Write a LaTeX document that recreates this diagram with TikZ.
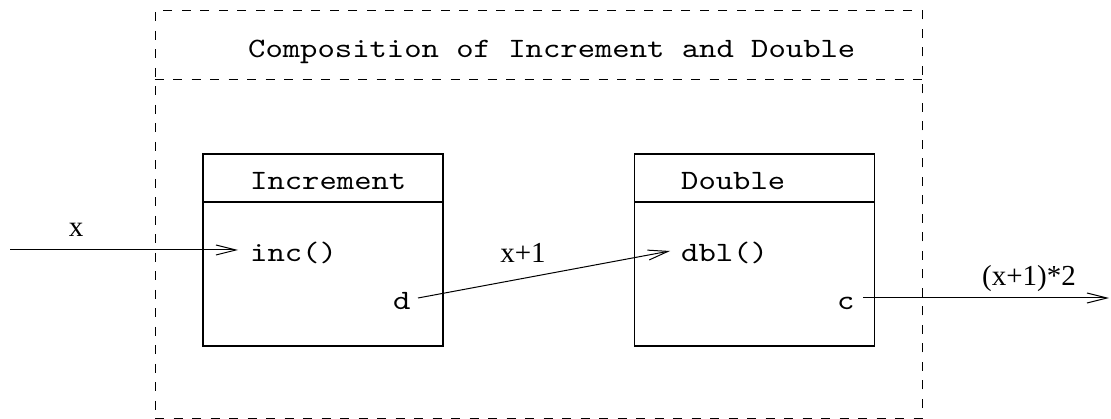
\documentclass[tikz,border=0pt]{standalone}
\usepackage{fontspec}
\setmainfont{Liberation Serif}
\setmonofont{lmmono10-regular.otf}[FakeStretch=1.18]
\usetikzlibrary{arrows.meta}
\begin{document}
\begin{tikzpicture}[x=1pt,y=-1pt,
  lbl/.style={inner sep=0pt, anchor=base west, font=\fontsize{28}{32}\selectfont\ttfamily},
  slbl/.style={inner sep=0pt, anchor=base, font=\fontsize{29}{32}\selectfont\rmfamily},
  dashbox/.style={draw, dash pattern=on 9pt off 9.5pt, line width=1pt},
  comp/.style={draw, line width=1.1pt, minimum width=240pt, minimum height=192pt, inner sep=0pt},
  flow/.style={line width=1pt, -{Straight Barb[length=20pt,width=10pt]}}
]
\useasboundingbox (0,0) rectangle (1111,419);
% outer composite
\node[dashbox, minimum width=767pt, minimum height=407pt, inner sep=0pt] (outer) at (538.5,214.5) {};
\coordinate (sepa) at (0,80);
\draw[dashbox] (outer.west |- sepa) -- (outer.east |- sepa);
\node[lbl] (title) at (248,58) {Composition of Increment and Double};
% components
\node[comp] (incbox) at (323,250) {};
\node[comp] (dblbox) at (754.5,250) {};
\coordinate (sepb) at (0,202);
\draw[line width=1.1pt] (incbox.west |- sepb) -- (incbox.east |- sepb);
\draw[line width=1.1pt] (dblbox.west |- sepb) -- (dblbox.east |- sepb);
\node[lbl] (incname) at (250,190) {Increment};
\node[lbl] (dblname) at (681,190) {Double};
\node[lbl] (incm) at (250,262) {inc()};
\node[lbl] (dblm) at (681,262) {dbl()};
\node[lbl] (dport) at (393,310) {d};
\node[lbl] (cport) at (837,310) {c};
% connector end points
\coordinate (xin) at (10,250);
\coordinate (inctip) at (238,250);
\coordinate (dstart) at (418,298);
\coordinate (dbltip) at (670,251);
\coordinate (cstart) at (863,298);
\coordinate (cend) at (1109,298);
\draw[flow] (xin) -- (inctip);
\draw[flow] (dstart) -- (dbltip);
\draw[flow] (cstart) -- (cend);
% labels
\node[slbl] (xl) at (76,237) {x};
\node[slbl] (x1l) at (523,263) {x+1};
\node[slbl] (x2l) at (1029,286) {(x+1)*2};
\end{tikzpicture}
\end{document}
